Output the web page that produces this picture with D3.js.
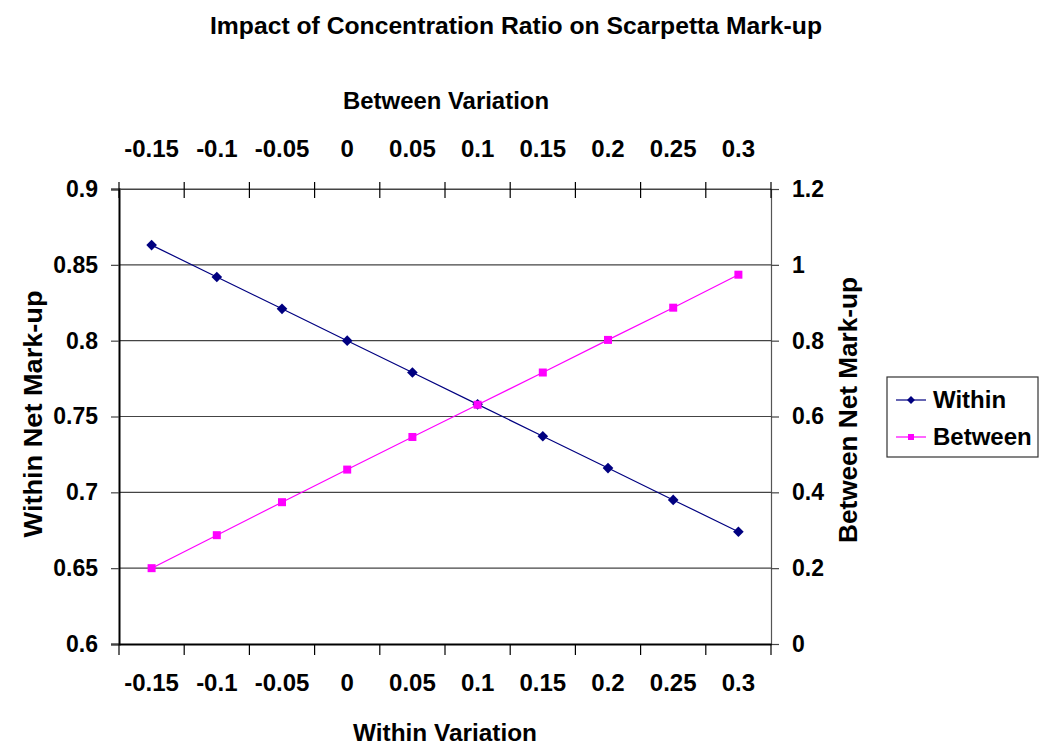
<!DOCTYPE html>
<html>
<head>
<meta charset="utf-8">
<script src="https://cdn.jsdelivr.net/npm/d3@7"></script>
<style>
  body { margin: 0; background: #fff; }
  text { font-family: "Liberation Sans", Arial, sans-serif; font-weight: bold; fill: #000; }
</style>
</head>
<body>
<svg id="chart"></svg>
<script>
// chart values
const categories = ["-0.15", "-0.1", "-0.05", "0", "0.05", "0.1", "0.15", "0.2", "0.25", "0.3"];
const withinValues = [0.863, 0.842, 0.821, 0.800, 0.779, 0.758, 0.737, 0.716, 0.695, 0.674];
const betweenValues = [0.200, 0.287, 0.374, 0.460, 0.546, 0.631, 0.716, 0.802, 0.887, 0.974];
const leftTicks = [0.6, 0.65, 0.7, 0.75, 0.8, 0.85, 0.9];
const rightTicks = [0, 0.2, 0.4, 0.6, 0.8, 1, 1.2];

const W = 1039, H = 746;
const plot = { left: 119, right: 771, top: 189, bottom: 644 };

const svg = d3.select("#chart").attr("width", W).attr("height", H);

const x = d3.scaleBand().domain(categories).range([plot.left, plot.right]).padding(0);
const yL = d3.scaleLinear().domain([0.6, 0.9]).range([plot.bottom, plot.top]);
const yR = d3.scaleLinear().domain([0, 1.2]).range([plot.bottom, plot.top]);
const cx = d => x(d) + x.bandwidth() / 2;

// gridlines
svg.append("g").selectAll("line")
    .data(leftTicks.slice(1))
    .enter().append("line")
    .attr("x1", plot.left).attr("x2", plot.right)
    .attr("y1", d => yL(d)).attr("y2", d => yL(d))
    .attr("stroke", "#444").attr("stroke-width", 1.2);

// left axis
const leftAxis = svg.append("g").attr("transform", `translate(${plot.left},0)`)
    .call(d3.axisLeft(yL).tickValues(leftTicks).tickSize(8).tickPadding(13)
        .tickFormat(d => String(+d.toFixed(2))));
leftAxis.select(".domain").attr("stroke", "#000").attr("stroke-width", 2);
leftAxis.selectAll(".tick line").attr("stroke", "#444").attr("stroke-width", 1.2);
leftAxis.selectAll("text").attr("font-size", 23).attr("font-family", null);

// right axis
const rightAxis = svg.append("g").attr("transform", `translate(${plot.right},0)`)
    .call(d3.axisRight(yR).tickValues(rightTicks).tickSize(8).tickPadding(13)
        .tickFormat(d => String(+d.toFixed(1))));
rightAxis.select(".domain").attr("stroke", "#555").attr("stroke-width", 1.2);
rightAxis.selectAll(".tick line").attr("stroke", "#444").attr("stroke-width", 1.2);
rightAxis.selectAll("text").attr("font-size", 23).attr("font-family", null);

// bottom and top category axes, ticks at band boundaries
const bounds = categories.map(c => x(c)).concat([plot.right]);

const bottomAxis = svg.append("g").attr("transform", `translate(0,${plot.bottom})`)
    .call(d3.axisBottom(x).tickSize(0).tickPadding(30));
bottomAxis.select(".domain").attr("stroke", "#000").attr("stroke-width", 2);
bottomAxis.selectAll("text").attr("font-size", 24).attr("font-family", null);
bottomAxis.selectAll("line.bt").data(bounds).enter().append("line").attr("class", "bt")
    .attr("x1", d => d).attr("x2", d => d).attr("y1", 0).attr("y2", 11)
    .attr("stroke", "#000").attr("stroke-width", 1.2);

const topAxis = svg.append("g").attr("transform", `translate(0,${plot.top})`)
    .call(d3.axisTop(x).tickSize(0).tickPadding(32));
topAxis.select(".domain").attr("stroke", "#444").attr("stroke-width", 1.2);
topAxis.selectAll("text").attr("font-size", 24).attr("font-family", null);
topAxis.selectAll("line.tt").data(bounds).enter().append("line").attr("class", "tt")
    .attr("x1", d => d).attr("x2", d => d).attr("y1", -7).attr("y2", 9)
    .attr("stroke", "#000").attr("stroke-width", 1.2);

// lines
const lineW = d3.line().x((d, i) => cx(categories[i])).y(d => yL(d));
const lineB = d3.line().x((d, i) => cx(categories[i])).y(d => yR(d));

svg.append("path").datum(withinValues).attr("d", lineW)
    .attr("fill", "none").attr("stroke", "#000080").attr("stroke-width", 1.2);
svg.append("path").datum(betweenValues).attr("d", lineB)
    .attr("fill", "none").attr("stroke", "#ff00ff").attr("stroke-width", 1.2);

const diamond = d3.symbol().type(d3.symbolDiamond2).size(72);
svg.append("g").selectAll("path")
    .data(withinValues).enter().append("path")
    .attr("d", diamond)
    .attr("transform", (d, i) => `translate(${cx(categories[i])},${yL(d)})`)
    .attr("fill", "#000080");

svg.append("g").selectAll("rect")
    .data(betweenValues).enter().append("rect")
    .attr("x", (d, i) => cx(categories[i]) - 4)
    .attr("y", d => yR(d) - 4)
    .attr("width", 8).attr("height", 8)
    .attr("fill", "#ff00ff");

// titles
svg.append("text").attr("x", 516).attr("y", 34).attr("text-anchor", "middle")
    .attr("font-family", "'Liberation Sans Narrow', 'Liberation Sans', Arial, sans-serif")
    .attr("font-size", 24).attr("textLength", 612).attr("lengthAdjust", "spacingAndGlyphs")
    .text("Impact of Concentration Ratio on Scarpetta Mark-up");
svg.append("text").attr("x", 446).attr("y", 109).attr("text-anchor", "middle")
    .attr("font-size", 24).attr("textLength", 206).attr("lengthAdjust", "spacingAndGlyphs")
    .text("Between Variation");
svg.append("text").attr("x", 445).attr("y", 741).attr("text-anchor", "middle")
    .attr("font-size", 24).attr("textLength", 184).attr("lengthAdjust", "spacingAndGlyphs")
    .text("Within Variation");
svg.append("text").attr("transform", "translate(42,414) rotate(-90)").attr("text-anchor", "middle")
    .attr("font-size", 25).attr("textLength", 247).attr("lengthAdjust", "spacingAndGlyphs")
    .text("Within Net Mark-up");
svg.append("text").attr("transform", "translate(857,410) rotate(-90)").attr("text-anchor", "middle")
    .attr("font-size", 25).attr("textLength", 266).attr("lengthAdjust", "spacingAndGlyphs")
    .text("Between Net Mark-up");

// legend
const legend = svg.append("g").attr("transform", "translate(887,377)");
legend.append("rect").attr("width", 151).attr("height", 80)
    .attr("fill", "#fff").attr("stroke", "#333").attr("stroke-width", 1.2);
const items = [
    { name: "Within", color: "#000080", shape: "diamond" },
    { name: "Between", color: "#ff00ff", shape: "square" }
];
items.forEach((it, i) => {
    const yy = 23 + i * 37;
    legend.append("line").attr("x1", 9).attr("x2", 39).attr("y1", yy).attr("y2", yy)
        .attr("stroke", it.color).attr("stroke-width", 1.2);
    if (it.shape === "diamond") {
        legend.append("path").attr("d", d3.symbol().type(d3.symbolDiamond2).size(40))
            .attr("transform", `translate(24,${yy})`).attr("fill", it.color);
    } else {
        legend.append("rect").attr("x", 21).attr("y", yy - 3).attr("width", 6).attr("height", 6).attr("fill", it.color);
    }
    legend.append("text").attr("x", 46).attr("y", yy + 8).attr("font-size", 24).text(it.name);
});
</script>
</body>
</html>
